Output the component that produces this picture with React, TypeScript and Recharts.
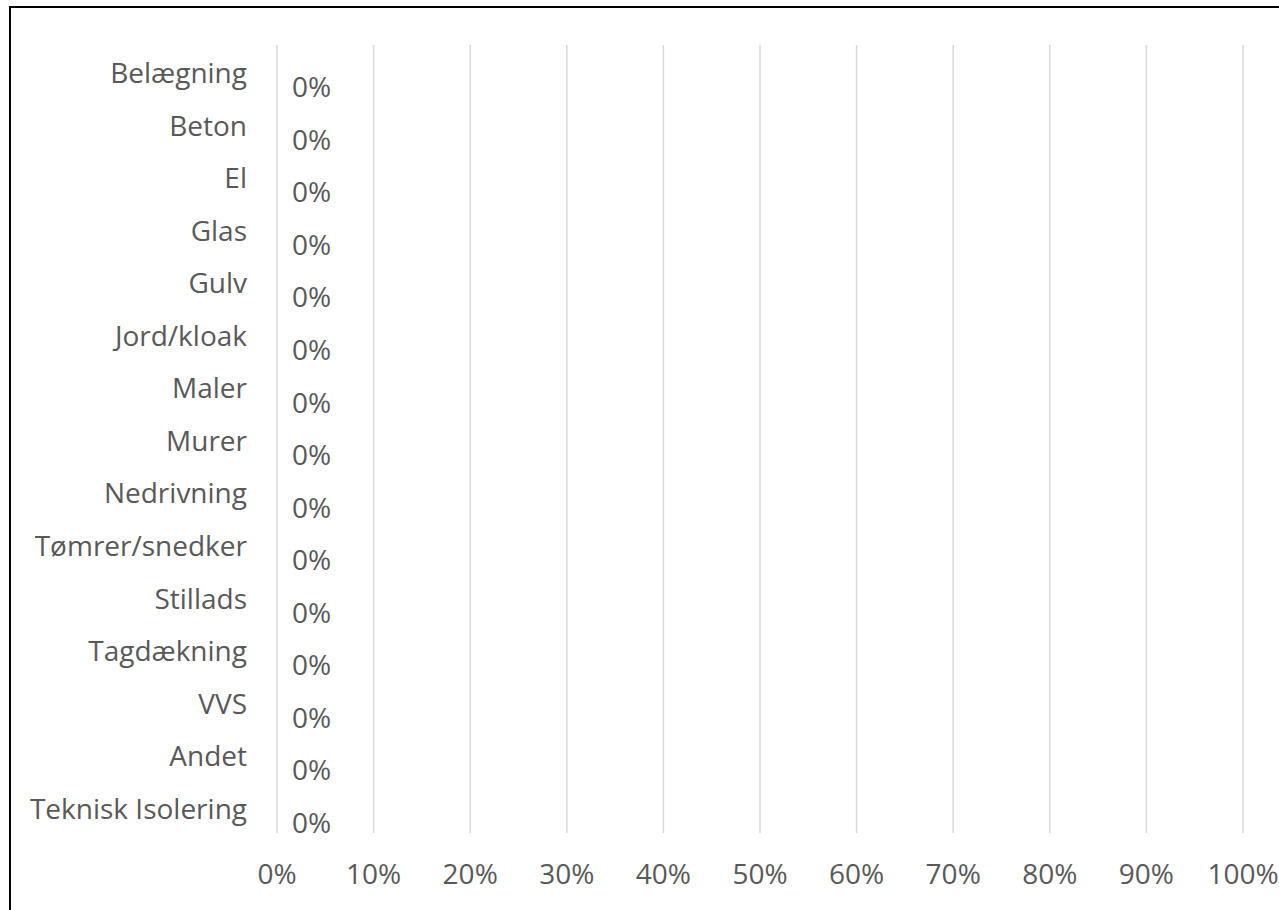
import React from 'react';
import { BarChart, Bar, XAxis, YAxis, CartesianGrid, LabelList } from 'recharts';

const categories = [
  'Belægning', 'Beton', 'El', 'Glas', 'Gulv', 'Jord/kloak', 'Maler', 'Murer',
  'Nedrivning', 'Tømrer/snedker', 'Stillads', 'Tagdækning', 'VVS', 'Andet', 'Teknisk Isolering',
];
const shares = [0, 0, 0, 0, 0, 0, 0, 0, 0, 0, 0, 0, 0, 0, 0];
const xTicks = [0, 0.1, 0.2, 0.3, 0.4, 0.5, 0.6, 0.7, 0.8, 0.9, 1];

const data = categories.map((c, i) => ({ name: c, share: shares[i] }));

const FONT = '"Open Sans", "Noto Sans", sans-serif';
const TEXT = '#595959';
const FS = 28;

const pct = (v: number) => `${Math.round(v * 100)}%`;

function ValueLabel(props: any) {
  const { x, y, height, value } = props;
  return (
    <text x={x + 15} y={y + height / 2 + 16} dy="0.36em" fill={TEXT} fontSize={FS} fontFamily={FONT}>
      {pct(Number(value) || 0)}
    </text>
  );
}

export default function App() {
  return (
    <div style={{ position: 'absolute', left: 0, top: 0, width: 1279, height: 910, overflow: 'hidden', background: '#fff' }}>
      <div style={{ position: 'absolute', left: 9, top: 6, width: 1400, height: 1000, border: '2px solid #000' }} />
      <div style={{ position: 'absolute', left: 0, top: 0 }}>
        <BarChart
          layout="vertical"
          width={1279}
          height={910}
          data={data}
          margin={{ top: 45, right: 36, bottom: 0, left: 0 }}
        >
          <CartesianGrid horizontal={false} stroke="#d9d9d9" strokeWidth={1.5} />
          <XAxis
            type="number"
            domain={[0, 1]}
            ticks={xTicks}
            tickFormatter={pct}
            axisLine={false}
            tickLine={false}
            tickSize={0}
            tickMargin={31}
            height={77}
            interval={0}
            tick={{ fill: TEXT, fontSize: FS, fontFamily: FONT }}
          />
          <YAxis
            type="category"
            dataKey="name"
            width={277}
            axisLine={false}
            tickLine={false}
            tickSize={0}
            tickMargin={30}
            interval={0}
            tick={{ fill: TEXT, fontSize: FS, fontFamily: FONT, dy: 2 }}
          />
          <Bar dataKey="share" fill="transparent" minPointSize={1} isAnimationActive={false}>
            <LabelList dataKey="share" content={<ValueLabel />} />
          </Bar>
        </BarChart>
      </div>
    </div>
  );
}
